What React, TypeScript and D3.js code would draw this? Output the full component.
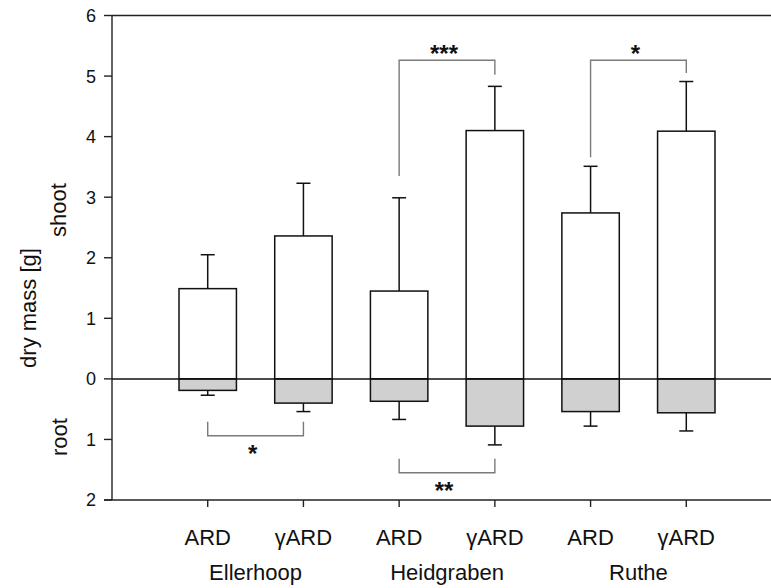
import * as d3 from "d3";

const treatments = ["ARD", "γARD", "ARD", "γARD", "ARD", "γARD"];
const sites = ["Ellerhoop", "Heidgraben", "Ruthe"];
const shootMean = [1.49, 2.36, 1.45, 4.1, 2.74, 4.09];
const shootErr = [0.56, 0.87, 1.54, 0.73, 0.77, 0.82];
const rootMean = [0.19, 0.4, 0.37, 0.78, 0.54, 0.56];
const rootErr = [0.08, 0.14, 0.3, 0.31, 0.24, 0.3];
const yTicks = [-2, -1, 0, 1, 2, 3, 4, 5, 6];

// significance brackets: bar indices, bracket level, leg ends (same units as y)
const brackets = [
  { a: 0, b: 1, level: -0.94, legA: -0.71, legB: -0.71, label: "*" },
  { a: 2, b: 3, level: -1.55, legA: -1.32, legB: -1.32, label: "**" },
  { a: 2, b: 3, level: 5.26, legA: 3.35, legB: 5.02, label: "***" },
  { a: 4, b: 5, level: 5.26, legA: 3.66, legB: 5.05, label: "*" },
];

const W = 771;
const H = 588;
const left = 112;

export default function App() {
  const x = d3.scaleLinear().domain([0, 7]).range([left, 782]);
  const y = d3.scaleLinear().domain([-2, 6]).range([500, 15.5]);
  const step = x(1) - x(0);
  const bw = step * 0.6;
  const cap = 7;
  const font = "Liberation Sans, Arial, sans-serif";

  return (
    <svg
      width={W}
      height={H}
      style={{ position: "absolute", left: 0, top: 0, background: "#fff" }}
      fontFamily={font}
    >
      {/* frame */}
      <line x1={left} x2={W} y1={y(6)} y2={y(6)} stroke="#222" strokeWidth={1.4} />
      <line x1={left - 8} x2={W} y1={y(-2)} y2={y(-2)} stroke="#222" strokeWidth={1.4} />
      <line x1={left} x2={left} y1={y(6)} y2={y(-2)} stroke="#222" strokeWidth={1.4} />

      {/* y ticks */}
      {yTicks.map((t) => (
        <g key={t}>
          <line x1={left - 8} x2={left} y1={y(t)} y2={y(t)} stroke="#222" strokeWidth={1.4} />
          <text x={left - 16} y={y(t)} dy="0.36em" textAnchor="end" fontSize={18} fill="#111">
            {Math.abs(t)}
          </text>
        </g>
      ))}

      {/* x ticks and labels */}
      {treatments.map((t, i) => (
        <g key={i}>
          <line x1={x(i + 1)} x2={x(i + 1)} y1={y(-2)} y2={y(-2) + 7} stroke="#222" strokeWidth={1.4} />
          <text x={x(i + 1)} y={545} textAnchor="middle" fontSize={22} fill="#111">
            {t}
          </text>
        </g>
      ))}
      {sites.map((s, j) => (
        <text key={s} x={(x(2 * j + 1) + x(2 * j + 2)) / 2} y={580} textAnchor="middle" fontSize={22} fill="#111">
          {s}
        </text>
      ))}

      {/* axis titles */}
      <text transform={`translate(36,308) rotate(-90)`} textAnchor="middle" fontSize={22} fill="#111">
        dry mass [g]
      </text>
      <text transform={`translate(66,210) rotate(-90)`} textAnchor="middle" fontSize={22} fill="#111">
        shoot
      </text>
      <text transform={`translate(67,437) rotate(-90)`} textAnchor="middle" fontSize={22} fill="#111">
        root
      </text>

      {/* error bars */}
      {shootMean.map((m, i) => (
        <g key={"se" + i} stroke="#111" strokeWidth={1.5}>
          <line x1={x(i + 1)} x2={x(i + 1)} y1={y(m)} y2={y(m + shootErr[i])} />
          <line x1={x(i + 1) - cap} x2={x(i + 1) + cap} y1={y(m + shootErr[i])} y2={y(m + shootErr[i])} />
        </g>
      ))}
      {rootMean.map((m, i) => (
        <g key={"re" + i} stroke="#111" strokeWidth={1.5}>
          <line x1={x(i + 1)} x2={x(i + 1)} y1={y(-m)} y2={y(-m - rootErr[i])} />
          <line x1={x(i + 1) - cap} x2={x(i + 1) + cap} y1={y(-m - rootErr[i])} y2={y(-m - rootErr[i])} />
        </g>
      ))}

      {/* bars */}
      {shootMean.map((m, i) => (
        <rect
          key={"s" + i}
          x={x(i + 1) - bw / 2}
          y={y(m)}
          width={bw}
          height={y(0) - y(m)}
          fill="#fff"
          stroke="#111"
          strokeWidth={1.5}
        />
      ))}
      {rootMean.map((m, i) => (
        <rect
          key={"r" + i}
          x={x(i + 1) - bw / 2}
          y={y(0)}
          width={bw}
          height={y(-m) - y(0)}
          fill="#d0d0d0"
          stroke="#111"
          strokeWidth={1.5}
        />
      ))}

      {/* zero line */}
      <line x1={left} x2={W} y1={y(0)} y2={y(0)} stroke="#111" strokeWidth={1.5} />

      {/* significance brackets */}
      {brackets.map((b, k) => {
        const xa = x(b.a + 1);
        const xb = x(b.b + 1);
        const up = b.level > 0;
        return (
          <g key={"b" + k}>
            <path
              d={`M${xa},${y(b.legA)}V${y(b.level)}H${xb}V${y(b.legB)}`}
              fill="none"
              stroke="#7a7a7a"
              strokeWidth={1.4}
            />
            <text
              x={(xa + xb) / 2 - 3}
              y={up ? y(b.level) + 2 : y(b.level) + 26}
              textAnchor="middle"
              fontSize={24}
              fontWeight="bold"
              fill="#111"
            >
              {b.label}
            </text>
          </g>
        );
      })}
    </svg>
  );
}
